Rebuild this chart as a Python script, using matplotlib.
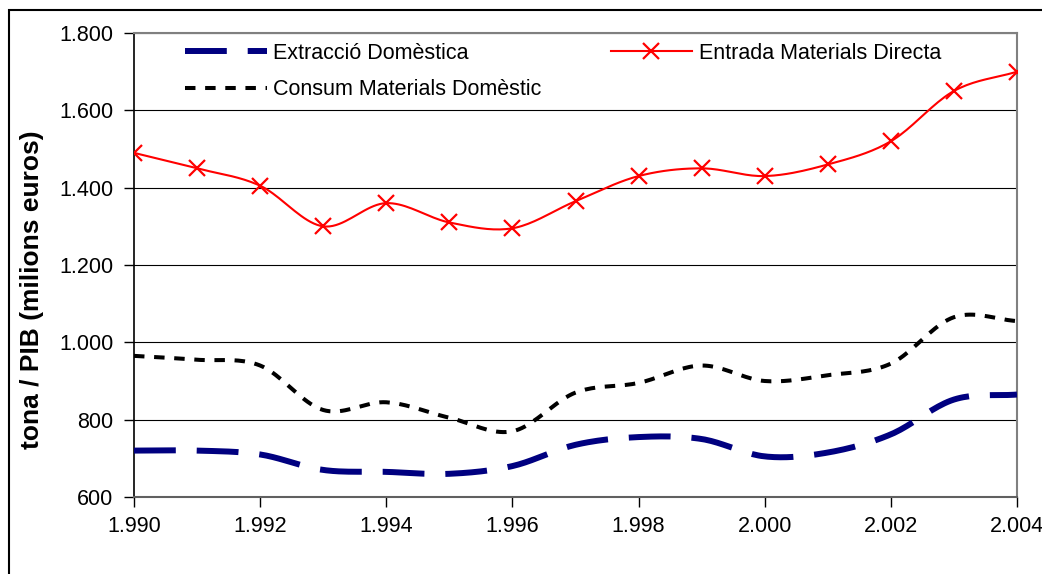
import numpy as np
import matplotlib
matplotlib.use("Agg")
import matplotlib.pyplot as plt
from matplotlib.ticker import FuncFormatter, MultipleLocator
from matplotlib.patches import Rectangle

plt.rcParams['font.family'] = ['Liberation Sans', 'DejaVu Sans']

years = [1990, 1991, 1992, 1993, 1994, 1995, 1996, 1997,
         1998, 1999, 2000, 2001, 2002, 2003, 2004]
extraccio = [720, 720, 710, 670, 665, 660, 680, 735,
             755, 750, 705, 715, 762, 852, 865]
entrada = [1490, 1450, 1405, 1300, 1360, 1310, 1295, 1365,
           1430, 1450, 1430, 1460, 1520, 1650, 1700]
consum = [965, 955, 940, 825, 845, 805, 770, 870,
          895, 940, 900, 915, 945, 1065, 1055]

labels = ['Extracció Domèstica', 'Consum Materials Domèstic',
          'Entrada Materials Directa']


def smooth(x, y, n=20):
    # catmull-rom curve through the points, like excel's smoothed line
    x = np.asarray(x, float)
    y = np.asarray(y, float)
    px = np.concatenate([[2 * x[0] - x[1]], x, [2 * x[-1] - x[-2]]])
    py = np.concatenate([[2 * y[0] - y[1]], y, [2 * y[-1] - y[-2]]])
    xs, ys = [], []
    t = np.linspace(0, 1, n, endpoint=False)
    for i in range(1, len(px) - 2):
        for p, out in ((px, xs), (py, ys)):
            p0, p1, p2, p3 = p[i - 1], p[i], p[i + 1], p[i + 2]
            out.extend(0.5 * ((2 * p1) + (-p0 + p2) * t
                              + (2 * p0 - 5 * p1 + 4 * p2 - p3) * t ** 2
                              + (-p0 + 3 * p1 - 3 * p2 + p3) * t ** 3))
    xs.append(x[-1])
    ys.append(y[-1])
    return np.array(xs), np.array(ys)


def dotted_thousands(v, pos):
    return f"{v:,.0f}".replace(',', '.')


W, H = 1042, 574
fig = plt.figure(figsize=(W / 100, H / 100), dpi=100, facecolor='white')
ax = fig.add_axes([134 / W, 1 - 497 / H, (1017 - 134) / W, (497 - 33) / H])

xs, ys = smooth(years, extraccio)
l1, = ax.plot(xs, ys, color='#000080', lw=4.3, dashes=(7, 3.5),
              solid_capstyle='butt', dash_capstyle='butt', zorder=3)
xs, ys = smooth(years, consum)
l2, = ax.plot(xs, ys, color='black', lw=2.9, dashes=(2.6, 2.4),
              dash_capstyle='butt', zorder=3)
xs, ys = smooth(years, entrada)
ax.plot(xs, ys, color='#ff0000', lw=1.5, zorder=4)
ax.plot(years, entrada, ls='none', marker='x', ms=12, mew=1.6,
        color='#ff0000', zorder=5)
l3, = ax.plot([], [], color='#ff0000', lw=1.5, marker='x', ms=12, mew=1.6)

ax.set_xlim(1990, 2004)
ax.set_ylim(600, 1800)
ax.xaxis.set_major_locator(MultipleLocator(2))
ax.yaxis.set_major_locator(MultipleLocator(200))
ax.xaxis.set_major_formatter(FuncFormatter(dotted_thousands))
ax.yaxis.set_major_formatter(FuncFormatter(dotted_thousands))
ax.tick_params(axis='both', labelsize=15.5, direction='out', length=7,
               width=1, color='black')
ax.tick_params(axis='x', pad=7)
ax.tick_params(axis='y', pad=8)

ax.grid(axis='y', color='black', lw=0.8)
ax.set_axisbelow(True)
for side in ['top', 'right']:
    ax.spines[side].set_color('#808080')
    ax.spines[side].set_linewidth(1.5)
ax.spines['left'].set_color('black')
ax.spines['bottom'].set_color('#606060')
ax.spines['left'].set_linewidth(1.2)
ax.spines['bottom'].set_linewidth(1.5)

leg = ax.legend([l1, l2, l3], labels, ncol=2, loc='upper left',
                bbox_to_anchor=((185 - 134) / 883, 1 - 10 / 464),
                frameon=False, fontsize=15.5, handlelength=3.8,
                handletextpad=0.3, columnspacing=3.2, labelspacing=0.7,
                borderpad=0, borderaxespad=0)

fig.text(32 / W, 1 - 290 / H, 'tona / PIB (milions euros)', rotation=90,
         ha='center', va='center', fontsize=19, fontweight='bold')

# outer chart frame, only top and left edges fall inside the picture
fig.patches.append(Rectangle((9 / W, -0.1), 1.2, 1 - 10 / H + 0.1,
                             transform=fig.transFigure, fill=False,
                             edgecolor='black', lw=1.5))

fig.savefig('out.png', dpi=100)
